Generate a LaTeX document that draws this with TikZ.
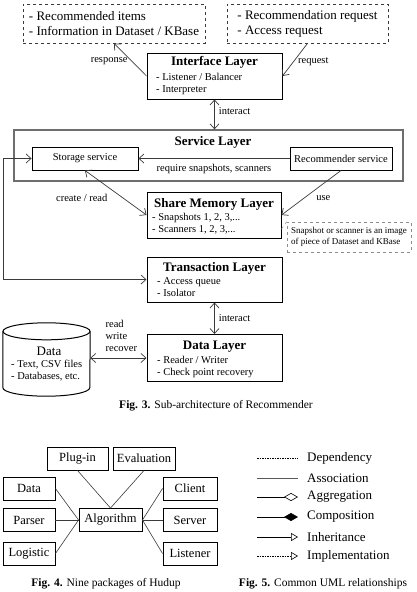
\documentclass[tikz,border=0pt]{standalone}
\usepackage{fontspec}
\setmainfont{Liberation Serif}
\usetikzlibrary{
    arrows.meta,
    positioning
}
\definecolor{linegray}{HTML}{3A3A3A}
\definecolor{framegray}{HTML}{6E6E6E}
\definecolor{notegray}{HTML}{8C8C8C}
\tikzset{
    % Layer box style
    layer/.style={
        rectangle,
        draw=black,
        line width=1pt,
        inner sep=0pt
    },
    % Outer service frame
    service frame/.style={
        rectangle,
        draw=framegray,
        line width=1.3pt,
        inner sep=0pt
    },
    % Service box style
    service/.style={
        rectangle,
        draw=black,
        line width=0.9pt,
        minimum height=23pt,
        inner sep=2pt,
        font=\fontsize{10.5}{12}\selectfont
    },
    % Dashed message box style
    msg box/.style={
        rectangle,
        draw=linegray,
        dashed,
        line width=0.8pt,
        align=left,
        inner sep=3pt,
        font=\fontsize{13}{15}\selectfont
    },
    % Small note style
    note box/.style={
        rectangle,
        draw=notegray,
        dashed,
        line width=0.6pt,
        align=left,
        inner sep=2pt,
        font=\fontsize{9}{11}\selectfont
    },
    % Database outline
    db line/.style={
        draw=black,
        line width=1pt
    },
    % Text styles
    layer title/.style={
        font=\fontsize{13}{15}\selectfont\bfseries,
        inner sep=0pt
    },
    item list/.style={
        anchor=west,
        align=left,
        inner sep=0pt,
        font=\fontsize{10.5}{12}\selectfont
    },
    label text/.style={
        font=\fontsize{10.5}{12}\selectfont,
        inner sep=1pt
    },
    caption/.style={
        font=\fontsize{11.5}{13}\selectfont
    },
    % Arrow styles
    flow/.style={
        -{Straight Barb[length=5pt, width=9pt]},
        line width=0.7pt,
        draw=linegray
    },
    biflow/.style={
        {Straight Barb[length=5pt, width=9pt]}-{Straight Barb[length=5pt, width=9pt]},
        line width=0.7pt,
        draw=linegray
    },
    % Package style
    package/.style={
        rectangle,
        draw=black,
        line width=0.9pt,
        minimum height=23pt,
        inner sep=1pt,
        font=\fontsize{12.5}{14}\selectfont
    },
    link/.style={
        line width=0.6pt,
        draw=linegray
    },
    % UML legend styles
    legend text/.style={
        anchor=west,
        inner sep=0pt,
        font=\fontsize{13}{15}\selectfont
    },
    uml dep/.style={line width=0.6pt, dash pattern=on 1.5pt off 1pt},
    uml assoc/.style={line width=1pt, draw=black!65},
    uml aggr/.style={-{Diamond[open, length=14pt, width=8pt]}, line width=0.6pt},
    uml comp/.style={-{Diamond[length=14pt, width=8pt]}, line width=0.6pt},
    uml inh/.style={-{Triangle[open, length=7pt, width=8pt]}, line width=0.6pt},
    uml impl/.style={-{Triangle[open, length=7pt, width=8pt]}, line width=0.6pt, dash pattern=on 1.5pt off 1pt}
}

\begin{document}
\begin{tikzpicture}[x=1pt, y=-1pt]
        \useasboundingbox (0,0) rectangle (417,592);

        % Fig. 3: requests and responses
        \node[msg box, minimum width=182pt, minimum height=39pt] (resp) at (114,23.5) {- Recommended items\\- Information in Dataset / KBase};
        \node[msg box, minimum width=161pt, minimum height=39pt] (req) at (307.5,23.5) {- Recommendation request\\- Access request};

        % Interface layer
        \node[layer, minimum width=135pt, minimum height=46pt] (iface) at (214.5,76) {};
        \node[layer title] at (214.5,62) {Interface Layer};
        \node[item list] at (156,84) {- Listener / Balancer\\- Interpreter};

        % Service layer
        \node[service frame, minimum width=389pt, minimum height=51pt] (servicelayer) at (208.5,155.5) {};
        \node[layer title] at (213,142) {Service Layer};
        \node[service, minimum width=106pt] (storage) at (85,158.5) {Storage service};
        \node[service, minimum width=102pt] (recomm) at (341,158.5) {Recommender service};

        % Share memory layer
        \node[layer, minimum width=134pt, minimum height=46pt] (share) at (214,215) {};
        \node[layer title] at (214,204) {Share Memory Layer};
        \node[item list] at (152,223.5) {- Snapshots 1, 2, 3,...\\- Scanners 1, 2, 3,...};
        \node[note box, minimum width=124pt, minimum height=30pt] (note) at (349,237) {Snapshot or scanner is an image\\of piece of Dataset and KBase};

        % Transaction layer
        \node[layer, minimum width=135pt, minimum height=45pt] (trans) at (214.5,279.5) {};
        \node[layer title] at (214.5,268) {Transaction Layer};
        \node[item list] at (157,287.5) {- Access queue\\- Isolator};

        % Data layer and storage
        \node[layer, minimum width=135pt, minimum height=47pt] (datalayer) at (214.5,358) {};
        \node[layer title] at (214.5,347) {Data Layer};
        \node[item list] at (157,366.5) {- Reader / Writer\\- Check point recovery};
        \node[minimum width=87pt, minimum height=73pt, inner sep=0pt] (db) at (46.5,359.5) {};
        \draw[db line] ([yshift=-8.5pt]db.north west) -- ([yshift=8.5pt]db.south west)
            arc[start angle=180, end angle=0, x radius=43.5, y radius=8.5] -- ([yshift=-8.5pt]db.north east);
        \draw[db line] ([yshift=-8.5pt]db.north) ellipse [x radius=43.5, y radius=8.5];
        \node[font=\fontsize{13}{15}\selectfont, inner sep=0pt] at (49,351) {Data};
        \node[item list] at (11,371) {- Text, CSV files\\- Databases, etc.};
        \coordinate (bus) at (3,0);

        % Connections
        \draw[flow] (iface.west) -- node[label text, pos=0.45, left=3pt] {response} (resp.south);
        \draw[flow] (req.south) -- node[label text, pos=0.55, right=3pt] {request} (iface.east);
        \draw[biflow] (iface.south) -- node[label text, pos=0.4, right=3pt] {interact} (iface.south |- servicelayer.north);
        \draw[flow] (recomm.west) -- node[label text, below=4pt] {require snapshots, scanners} (storage.east);
        \draw[biflow] (storage.south) -- node[label text, pos=0.5, xshift=-34pt, yshift=-5pt] {create / read} (share.west);
        \draw[flow] (recomm.south) -- node[label text, pos=0.5, xshift=12pt, yshift=-5.5pt] {use} (share.east);
        \draw[notegray, dashed, line width=0.5pt] (note.north west) -- ([yshift=-14pt]share.east);
        \draw[biflow] (storage.west) -- (storage.west -| bus) |- (trans.west);
        \draw[biflow] (trans.south) -- node[label text, right=3pt] {interact} (datalayer.north);
        \draw[biflow] (datalayer.west -| db.east) -- node[label text, align=left, above=5pt, xshift=3pt] {read\\write\\recover} (datalayer.west);

        \node[caption] (cap3) at (216,406) {\textbf{Fig. 3.} Sub-architecture of Recommender};

        % Fig. 4: packages
        \node[package, minimum width=61pt] (plugin) at (77.5,458.5) {Plug-in};
        \node[package, minimum width=62pt] (eval) at (144,458.5) {Evaluation};
        \node[package, minimum width=52pt] (data) at (29,488.5) {Data};
        \node[package, minimum width=52pt] (parser) at (29,520) {Parser};
        \node[package, minimum width=52pt] (logistic) at (29,553.5) {Logistic};
        \node[package, minimum width=63pt] (algo) at (110.5,520) {Algorithm};
        \node[package, minimum width=54pt] (client) at (190,488.5) {Client};
        \node[package, minimum width=54pt] (server) at (190,520) {Server};
        \node[package, minimum width=54pt] (listener) at (190,553.5) {Listener};

        \draw[link] (plugin.south) -- (algo.north);
        \draw[link] (eval.south) -- (algo.north);
        \draw[link] (data.east) -- (algo.west);
        \draw[link] (parser.east) -- (algo.west);
        \draw[link] (logistic.east) -- (algo.west);
        \draw[link] (client.west) -- (algo.east);
        \draw[link] (server.west) -- (algo.east);
        \draw[link] (listener.west) -- (algo.east);

        \node[caption] (cap4) at (106,584) {\textbf{Fig. 4.} Nine packages of Hudup};

        % Fig. 5: UML legend
        \coordinate (dep a) at (257,458);
        \coordinate (dep b) at (298,458);
        \draw[uml dep] (dep a) -- (dep b);
        \node[legend text] (dep) at (307,458) {Dependency};

        \coordinate (assoc a) at (257,478);
        \coordinate (assoc b) at (298,478);
        \draw[uml assoc] (assoc a) -- (assoc b);
        \node[legend text] (assoc) at (307,478) {Association};

        \coordinate (aggr a) at (257,497);
        \coordinate (aggr b) at (298,497);
        \draw[uml aggr] (aggr a) -- (aggr b);
        \node[legend text] (aggr) at (307,497) {Aggregation};

        \coordinate (comp a) at (257,517);
        \coordinate (comp b) at (298,517);
        \draw[uml comp] (comp a) -- (comp b);
        \node[legend text] (comp) at (307,517) {Composition};

        \coordinate (inh a) at (257,537);
        \coordinate (inh b) at (298,537);
        \draw[uml inh] (inh a) -- (inh b);
        \node[legend text] (inh) at (307,537) {Inheritance};

        \coordinate (impl a) at (257,556);
        \coordinate (impl b) at (298,556);
        \draw[uml impl] (impl a) -- (impl b);
        \node[legend text] (impl) at (307,556) {Implementation};

        \node[caption] (cap5) at (323,584) {\textbf{Fig. 5.} Common UML relationships};

    \end{tikzpicture}
\end{document}
